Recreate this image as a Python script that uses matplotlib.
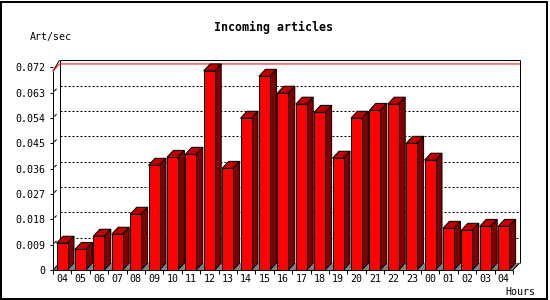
import numpy as np
import matplotlib
matplotlib.use("Agg")
import matplotlib.pyplot as plt
from matplotlib.patches import Polygon, Rectangle

# hourly rate of incoming articles
hours = ['04', '05', '06', '07', '08', '09', '10', '11', '12', '13', '14', '15', '16',
         '17', '18', '19', '20', '21', '22', '23', '00', '01', '02', '03', '04']
rates = [0.0095, 0.0073, 0.0120, 0.0127, 0.0198, 0.0372, 0.0400, 0.0411, 0.0707,
         0.0361, 0.0539, 0.0688, 0.0628, 0.0589, 0.0560, 0.0397, 0.0539, 0.0567,
         0.0589, 0.0450, 0.0390, 0.0148, 0.0141, 0.0155, 0.0155]
yticks = [0, 0.009, 0.018, 0.027, 0.036, 0.045, 0.054, 0.063, 0.072]
ytick_labels = ['0', '0.009', '0.018', '0.027', '0.036', '0.045', '0.054', '0.063', '0.072']

W, H = 550, 300
fig = plt.figure(figsize=(W / 100, H / 100), dpi=100)
fig.patch.set_facecolor('white')

# front plotting area in pixels
left, right, bottom, top = 53, 513, 270, 67.3
ax = fig.add_axes([left / W, 1 - bottom / H, (right - left) / W, (bottom - top) / H])
n = len(rates)
ymax = 0.072
ax.set_xlim(0, n)
ax.set_ylim(0, ymax)
ax.set_facecolor('none')

px = 0.72  # one pixel in points
slot_px = (right - left) / n
unit_px = (bottom - top) / ymax
dx = 6.5 / slot_px       # depth, in data units
dy = 7.0 / unit_px

for s in ax.spines.values():
    s.set_visible(False)

mono = 'DejaVu Sans Mono'

# ticks
ax.set_yticks(yticks)
ax.set_yticklabels(ytick_labels, family=mono, fontsize=7.2)
ax.tick_params(axis='y', length=3 * px, width=px, pad=3.2, direction='out')
ax.set_xticks(np.arange(n + 1))
ax.set_xticklabels([])
ax.set_xticks(np.arange(n) + 0.5, minor=True)
ax.set_xticklabels(hours, minor=True, family=mono, fontsize=7.2)
ax.tick_params(axis='x', which='major', length=4 * px, width=px, direction='out')
ax.tick_params(axis='x', which='minor', length=0, pad=3.2)

# floor
floor = Polygon([(0, 0), (n, 0), (n + dx, dy), (dx, dy)], closed=True,
                facecolor='#808080', edgecolor='none', zorder=1, clip_on=False)
ax.add_patch(floor)

# back wall grid
for v in yticks[1:-1]:
    ax.plot([dx, n + dx], [v + dy, v + dy], color='black', lw=px,
            linestyle=(0, (2, 2)), zorder=1, clip_on=False)
    # little depth ticks
    ax.plot([dx * 0.25, dx * 0.5], [v + dy * 0.25, v + dy * 0.5], color='black',
            lw=px, zorder=1, clip_on=False)

# frame
k = dict(color='black', lw=px, zorder=2, clip_on=False, solid_capstyle='butt')
ax.plot([dx, dx], [dy, ymax + dy], **k)
ax.plot([dx, n + dx], [ymax + dy, ymax + dy], **k)
ax.plot([n + dx, n + dx], [dy, ymax + dy], **k)
ax.plot([n, n + dx], [0, dy], **k)
ax.plot([0, dx], [0, dy], **k)
ax.plot([0, n], [0, 0], **k)
vmax = max(rates)
ax.plot([0, 0], [0, vmax], **k)
ax.plot([0, dx], [vmax, ymax + dy], **k)

# max line
ax.plot([0, dx, n + dx], [vmax, vmax + dy, vmax + dy], color='#ff0000', lw=px,
        zorder=2, clip_on=False)

# bars
off = 3.5 / slot_px
bw = 11.0 / slot_px
ax.bar(np.arange(n) + off, rates, width=bw, align='edge', color='#ff0000',
       edgecolor='black', linewidth=px, zorder=4)
for i, v in enumerate(rates):
    x0 = i + off
    x1 = x0 + bw
    topface = Polygon([(x0, v), (x1, v), (x1 + dx, v + dy), (x0 + dx, v + dy)],
                      closed=True, facecolor='#c00000', edgecolor='black',
                      linewidth=px, zorder=3, clip_on=False)
    side = Polygon([(x1, 0), (x1, v), (x1 + dx, v + dy), (x1 + dx, dy)],
                   closed=True, facecolor='#800000', edgecolor='black',
                   linewidth=px, zorder=3, clip_on=False)
    ax.add_patch(topface)
    ax.add_patch(side)

# texts
fig.text(274 / W, 1 - 27 / H, 'Incoming articles', ha='center', va='center',
         family=mono, fontweight='bold', fontsize=8.4)
fig.text(30 / W, 1 - 37 / H, 'Art/sec', ha='left', va='center', family=mono, fontsize=7.2)
fig.text(505 / W, 1 - 292 / H, 'Hours', ha='left', va='center', family=mono, fontsize=7.2)

# image border
fig.patches.append(Rectangle((0.5 / W, 1.5 / H), 546.5 / W, 297 / H, transform=fig.transFigure,
                             fill=False, edgecolor='black', lw=2 * px, figure=fig))

fig.savefig('out.png', dpi=100)
